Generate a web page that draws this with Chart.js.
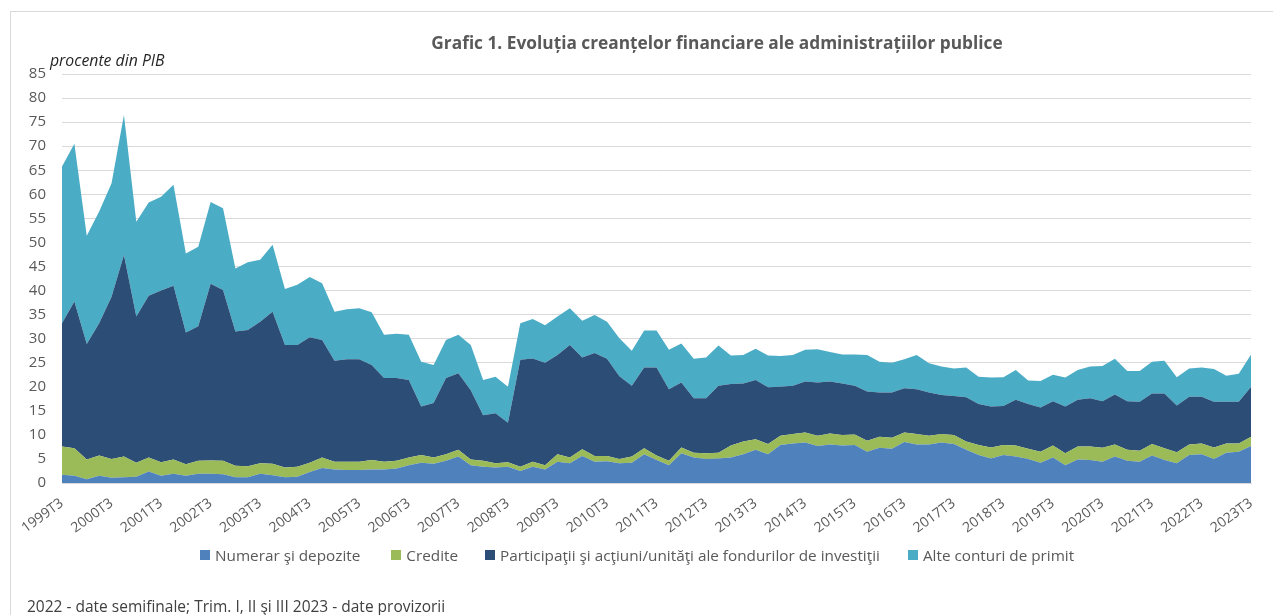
<!DOCTYPE html>
<html>
<head>
<meta charset="utf-8">
<script src="https://cdn.jsdelivr.net/npm/chart.js@4/dist/chart.umd.min.js"></script>
<style>
  html, body { margin: 0; padding: 0; background: #ffffff; }
  #wrap { position: relative; width: 1273px; height: 615px; overflow: hidden; background: #fff; }
  #frame { position: absolute; left: 10px; top: 11px; width: 1300px; height: 700px; border-left: 1px solid #D9D9D9; border-top: 1px solid #D9D9D9; }
  canvas { position: absolute; left: 0; top: 0; }
  .txt { position: absolute; font-family: "Open Sans", sans-serif; white-space: nowrap; }
  #title { left: 217px; width: 1000px; top: 31px; text-align: center; font-weight: bold; font-size: 17.3px; color: #595959; }
  #unit { left: 50px; top: 49px; font-style: italic; font-size: 15.8px; color: #262626; }
  #note { left: 27px; top: 595px; font-size: 15.5px; color: #404040; }
  #legend { position: absolute; left: 200px; top: 544px; height: 22px; display: flex; align-items: center; font-family: "Open Sans", sans-serif; font-size: 15.3px; color: #595959; white-space: nowrap; }
  #legend .item { display: flex; align-items: center; }
  #legend .box { width: 10px; height: 10px; margin-right: 5px; }
</style>
</head>
<body>
<div id="wrap">
  <div id="frame"></div>
  <canvas id="c" width="1273" height="615"></canvas>
  <div class="txt" id="title">Grafic 1. Evoluția creanțelor financiare ale administrațiilor publice</div>
  <div class="txt" id="unit">procente din PIB</div>
  <div id="legend"></div>
  <div class="txt" id="note">2022 - date semifinale; Trim. I, II şi III 2023 - date provizorii</div>
</div>
<script>
// Quarterly categories 1999T3 .. 2023T3
const startYear = 1999, endYear = 2023;
const categories = [];
for (let y = startYear; y <= endYear; y++) {
  for (let q = 1; q <= 4; q++) {
    if (y === startYear && q < 3) continue;
    if (y === endYear && q > 3) continue;
    categories.push(y + 'T' + q);
  }
}

const seriesNames = [
  'Numerar şi depozite',
  'Credite',
  'Participaţii şi acţiuni/unităţi ale fondurilor de investiţii',
  'Alte conturi de primit'
];

const numerar = [
  1.7,1.5,0.8,1.5,1.1,1.2,1.3,2.4,1.5,1.9,
  1.5,1.9,1.9,1.8,1.2,1.2,1.9,1.6,1.2,1.3,
  2.3,3.1,2.8,2.7,2.7,2.8,2.8,3.0,3.7,4.2,
  4.0,4.6,5.5,3.7,3.4,3.2,3.4,2.5,3.4,2.8,
  4.4,4.1,5.6,4.4,4.5,4.1,4.2,6.0,4.8,3.7,
  6.2,5.3,5.0,5.1,5.3,6.0,6.9,6.0,7.9,8.2,
  8.4,7.7,8.0,7.8,7.9,6.5,7.3,7.1,8.5,8.0,
  8.0,8.4,8.1,6.9,5.8,5.1,5.8,5.5,5.0,4.2,
  5.3,3.7,4.9,4.8,4.4,5.5,4.6,4.4,5.7,4.8,
  4.1,5.8,6.0,5.0,6.3,6.5,7.7
];

const credite = [
  5.9,5.7,4.1,4.2,3.9,4.3,2.9,2.9,2.8,3.0,
  2.4,2.7,2.8,2.8,2.4,2.3,2.2,2.4,2.0,2.1,
  1.9,2.2,1.6,1.7,1.7,2.0,1.6,1.6,1.6,1.6,
  1.3,1.4,1.4,1.2,1.2,0.9,0.9,0.9,1.0,0.9,
  1.6,1.2,1.4,1.2,1.1,0.9,1.3,1.2,0.9,0.9,
  1.2,1.0,1.2,1.2,2.5,2.6,2.2,2.1,1.9,2.0,
  2.1,2.1,2.3,2.2,2.2,2.3,2.3,2.3,2.0,2.2,
  1.8,1.8,1.9,1.7,2.1,2.3,2.1,2.3,2.1,2.3,
  2.5,2.5,2.7,2.8,2.9,2.5,2.3,2.3,2.4,2.4,
  2.3,2.2,2.2,2.4,1.9,1.7,1.9
];

const participatii = [
  25.6,30.5,24.0,27.5,33.7,41.9,30.4,33.6,35.7,36.1,
  27.4,28.0,36.7,35.5,27.9,28.3,29.4,31.6,25.5,25.3,
  26.1,24.4,21.0,21.3,21.3,19.7,17.4,17.2,16.1,10.1,
  11.3,15.8,15.9,14.4,9.5,10.4,8.2,22.2,21.5,21.3,
  20.6,23.4,19.1,21.4,20.2,17.2,14.7,16.8,18.3,14.9,
  13.5,11.3,11.4,13.9,12.8,12.1,12.3,11.8,10.2,10.0,
  10.6,11.1,10.8,10.7,10.1,10.2,9.2,9.4,9.2,9.3,
  9.0,8.1,8.1,9.2,8.5,8.5,8.1,9.5,9.3,9.2,
  9.2,9.7,9.7,10.0,9.7,10.4,10.1,10.2,10.5,11.4,
  9.7,9.9,9.7,9.5,8.7,8.7,10.4
];

const alteConturi = [
  32.6,32.8,22.5,23.2,23.6,29.1,19.7,19.4,19.5,21.0,
  16.4,16.5,17.0,17.0,13.1,14.1,12.9,13.9,11.6,12.5,
  12.5,11.8,10.2,10.4,10.6,11.0,9.0,9.2,9.4,9.3,
  7.9,7.9,8.0,9.4,7.3,7.6,7.5,7.6,8.2,7.8,
  8.0,7.6,7.6,7.9,7.7,7.9,7.3,7.7,7.7,8.2,
  8.1,8.2,8.5,8.4,5.9,5.9,6.5,6.6,6.4,6.4,
  6.6,6.9,6.1,6.0,6.5,7.6,6.4,6.2,6.0,7.1,
  6.1,5.9,5.7,6.2,5.7,6.0,6.0,6.2,4.9,5.5,
  5.5,6.0,6.2,6.6,7.3,7.4,6.3,6.4,6.6,6.8,
  5.9,5.9,6.1,6.8,5.4,5.8,6.7
];

const yTicks = { min: 0, max: 85, step: 5 };
const colors = ['#4F81BD', '#9BBB59', '#2C4D75', '#4BACC6'];
const seriesData = [numerar, credite, participatii, alteConturi];

const datasets = seriesData.map((d, i) => ({
  label: seriesNames[i],
  data: d,
  backgroundColor: colors[i],
  borderColor: colors[i],
  borderWidth: 0,
  pointRadius: 0,
  pointHoverRadius: 0,
  tension: 0,
  fill: i === 0 ? 'origin' : '-1'
}));

// HTML legend built from the series names and colours
const legendGaps = [31, 27, 28, 0];
const legendEl = document.getElementById('legend');
seriesNames.forEach((name, i) => {
  const item = document.createElement('div');
  item.className = 'item';
  item.style.marginRight = legendGaps[i] + 'px';
  const box = document.createElement('span');
  box.className = 'box';
  box.style.background = colors[i];
  const label = document.createElement('span');
  label.textContent = name;
  item.appendChild(box);
  item.appendChild(label);
  legendEl.appendChild(item);
});

const FONT = '"Open Sans", sans-serif';

new Chart(document.getElementById('c'), {
  type: 'line',
  data: { labels: categories, datasets },
  options: {
    responsive: false,
    animation: false,
    events: [],
    layout: { padding: { top: 74, right: 12, left: 0, bottom: 0 } },
    plugins: {
      title: { display: false },
      tooltip: { enabled: false },
      filler: { propagate: false },
      legend: { display: false }
    },
    scales: {
      x: {
        type: 'category',
        offset: false,
        grid: { display: false, drawTicks: false },
        border: { display: true, color: '#D9D9D9', width: 1 },
        ticks: {
          autoSkip: false,
          minRotation: 36,
          maxRotation: 36,
          padding: 12,
          color: '#595959',
          font: { family: FONT, size: 14 },
          callback: function(val, idx) {
            return idx % 4 === 0 ? this.getLabelForValue(val) : '';
          }
        },
        afterFit: (s) => { s.height = 132; }
      },
      y: {
        stacked: true,
        min: yTicks.min,
        max: yTicks.max,
        grid: { color: '#D9D9D9', lineWidth: 1, drawTicks: false },
        border: { display: false },
        ticks: {
          stepSize: yTicks.step,
          padding: 16,
          color: '#595959',
          font: { family: FONT, size: 15 }
        },
        afterFit: (s) => { s.width = 62; }
      }
    }
  }
});
</script>
</body>
</html>
